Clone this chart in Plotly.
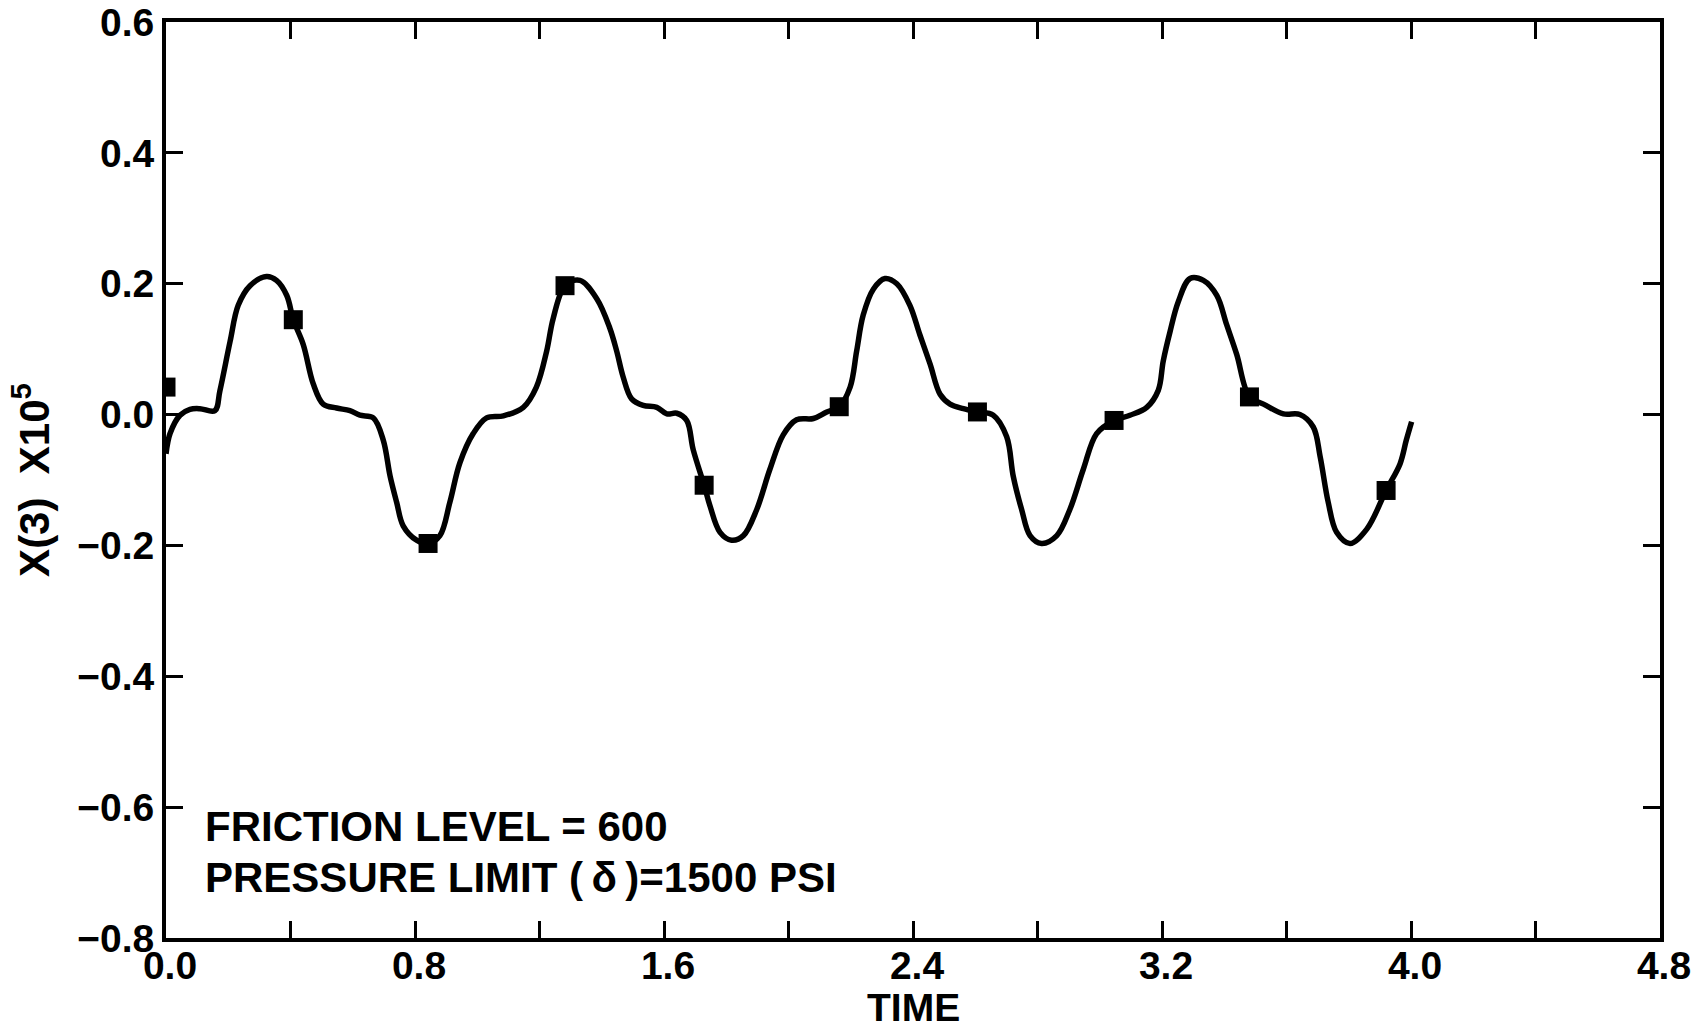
import plotly.graph_objects as go

# Curve data (TIME, X(3) x10^5)
time = [0.0, 0.013, 0.045, 0.077, 0.109, 0.157, 0.173, 0.206, 0.232, 0.27, 0.323, 0.355, 0.388,
        0.409, 0.441, 0.473, 0.505, 0.548, 0.591, 0.623, 0.666, 0.698, 0.72, 0.741, 0.762, 0.805,
        0.842, 0.88, 0.912, 0.944, 0.987, 1.03, 1.084, 1.148, 1.19, 1.223, 1.244, 1.282, 1.33,
        1.384, 1.426, 1.448, 1.469, 1.496, 1.533, 1.577, 1.609, 1.641, 1.673, 1.694, 1.729, 1.748,
        1.78, 1.817, 1.855, 1.898, 1.94, 1.983, 2.026, 2.08, 2.123, 2.163, 2.198, 2.219, 2.24,
        2.273, 2.31, 2.348, 2.39, 2.422, 2.455, 2.487, 2.519, 2.562, 2.607, 2.658, 2.701, 2.722,
        2.749, 2.776, 2.813, 2.862, 2.904, 2.947, 2.99, 3.046, 3.097, 3.151, 3.188, 3.204, 3.226,
        3.252, 3.29, 3.333, 3.376, 3.408, 3.44, 3.481, 3.526, 3.59, 3.643, 3.686, 3.708, 3.734,
        3.761, 3.804, 3.858, 3.92, 3.965, 3.985, 4.002]
x3 = [-0.06, -0.029, -0.001, 0.008, 0.009, 0.006, 0.036, 0.112, 0.167, 0.197, 0.211, 0.205, 0.182,
      0.145, 0.107, 0.047, 0.016, 0.010, 0.006, -0.001, -0.005, -0.039, -0.094, -0.134, -0.17, -0.192,
      -0.197, -0.185, -0.134, -0.074, -0.029, -0.005, -0.002, 0.011, 0.042, 0.097, 0.147, 0.197, 0.205,
      0.177, 0.132, 0.097, 0.057, 0.024, 0.014, 0.011, 0.001, 0.002, -0.009, -0.054, -0.108, -0.14,
      -0.18, -0.192, -0.185, -0.145, -0.084, -0.031, -0.008, -0.006, 0.004, 0.012, 0.042, 0.097, 0.152,
      0.192, 0.208, 0.2, 0.167, 0.122, 0.077, 0.031, 0.016, 0.009, 0.004, -0.001, -0.034, -0.094,
      -0.145, -0.185, -0.197, -0.185, -0.145, -0.084, -0.029, -0.009, -0.001, 0.011, 0.037, 0.082, 0.127,
      0.172, 0.208, 0.205, 0.182, 0.137, 0.092, 0.027, 0.016, 0.001, 0.0, -0.019, -0.064, -0.134,
      -0.18, -0.197, -0.175, -0.116, -0.075, -0.039, -0.011]

# Square markers
mark_time = [0.0, 0.409, 0.842, 1.282, 1.729, 2.163, 2.607, 3.046, 3.481, 3.92]
mark_x3 = [0.042, 0.145, -0.197, 0.197, -0.108, 0.012, 0.004, -0.009, 0.027, -0.116]

# Ticks
x_tickvals = [0.0, 0.4, 0.8, 1.2, 1.6, 2.0, 2.4, 2.8, 3.2, 3.6, 4.0, 4.4, 4.8]
x_ticktext = ["0.0", "", "0.8", "", "1.6", "", "2.4", "", "3.2", "", "4.0", "", "4.8"]
y_tickvals = [-0.8, -0.6, -0.4, -0.2, 0.0, 0.2, 0.4, 0.6]
y_ticktext = ["\u22120.8", "\u22120.6", "\u22120.4", "\u22120.2", "0.0", "0.2", "0.4", "0.6"]

x_title = "TIME"
y_title = "X(3)\u00a0\u00a0X10<sup>5</sup>"
note_lines = ["FRICTION LEVEL = 600", "PRESSURE LIMIT (\u2009\u03b4\u2009)=1500 PSI"]

FONT = "Liberation Sans, Arial, Helvetica, sans-serif"

fig = go.Figure()
fig.add_trace(go.Scatter(x=time, y=x3, mode="lines",
                         line=dict(color="black", width=5.5, shape="spline", smoothing=1.0),
                         showlegend=False))
fig.add_trace(go.Scatter(x=mark_time, y=mark_x3, mode="markers",
                         marker=dict(symbol="square", size=19, color="black"),
                         showlegend=False))

axis_common = dict(showline=True, linecolor="black", linewidth=4, mirror="ticks",
                   ticks="inside", ticklen=17, tickwidth=3, tickcolor="black",
                   showgrid=False, zeroline=False, automargin=False,
                   tickfont=dict(family=FONT, size=39, color="black", weight="bold"))

fig.update_xaxes(range=[0, 4.8], tickmode="array", tickvals=x_tickvals, ticktext=x_ticktext,
                 ticklabelstandoff=-10, ticklabelshift=4, **axis_common)
fig.update_yaxes(range=[-0.8, 0.6], tickmode="array", tickvals=y_tickvals, ticktext=y_ticktext,
                 title=dict(text=y_title,
                            font=dict(family=FONT, size=42, color="black", weight="bold"),
                            standoff=16),
                 **axis_common)

fig.add_annotation(x=0.5, y=-0.076, xref="paper", yref="paper", text=x_title, showarrow=False,
                   xanchor="center", yanchor="middle",
                   font=dict(family=FONT, size=39, color="black", weight="bold"))

fig.add_annotation(x=0.12, y=-0.630, xref="x", yref="y", text=note_lines[0], showarrow=False,
                   xanchor="left", yanchor="middle",
                   font=dict(family=FONT, size=42, color="black", weight="bold"))
fig.add_annotation(x=0.12, y=-0.707, xref="x", yref="y", text=note_lines[1], showarrow=False,
                   xanchor="left", yanchor="middle",
                   font=dict(family=FONT, size=42, color="black", weight="bold"))

fig.update_layout(width=1694, height=1031, margin=dict(l=166, r=34, t=22, b=93),
                  paper_bgcolor="white", plot_bgcolor="white")

fig.write_html("out.html", config={"displayModeBar": False},
               post_script="document.body.style.margin='0';document.body.style.overflow='hidden';")
